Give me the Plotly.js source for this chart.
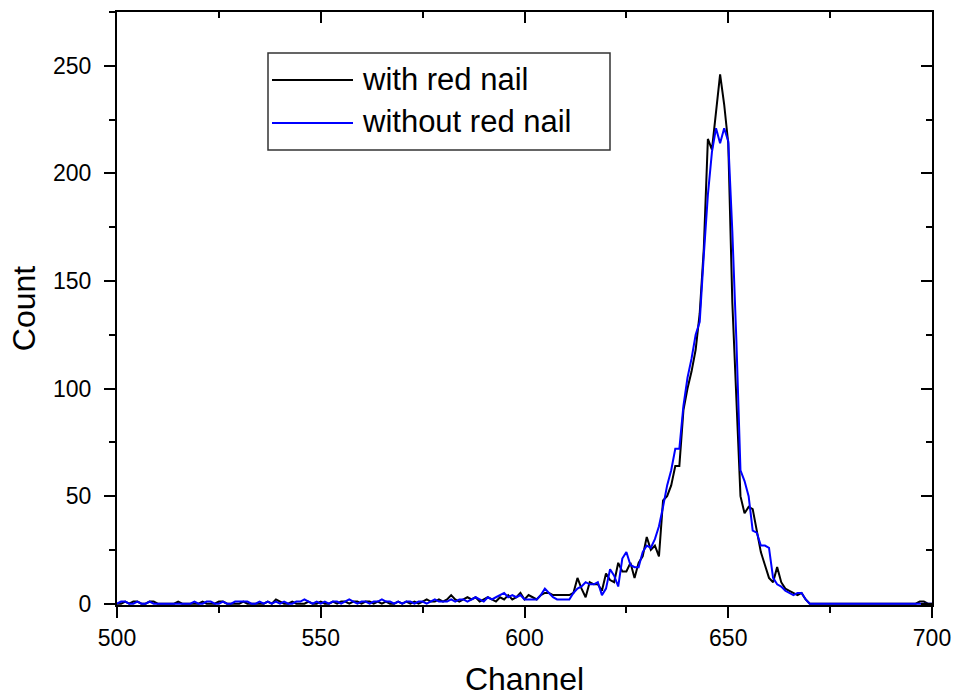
<!DOCTYPE html>
<html>
<head>
<meta charset="utf-8">
<script src="https://cdn.plot.ly/plotly-3.0.1.min.js"></script>
<style>html,body{margin:0;padding:0;background:#fff;}#chart{width:955px;height:697px;}</style>
</head>
<body>
<div id="chart"></div>
<script>
// Channel numbering: first channel of the arrays below
const firstChannel = 500;

// Counts per channel (500..700), "with red nail"
const withRedNail = [
  0,0,1,0,1,1,0,0,1,1, 0,0,0,0,0,1,0,0,0,0,
  0,1,0,0,0,1,1,0,0,0, 0,1,0,0,0,0,0,1,0,2,
  1,0,0,1,0,0,0,1,0,0, 1,0,0,1,0,1,1,0,1,1,
  0,1,1,0,1,0,1,0,0,1, 0,1,0,1,0,1,2,1,1,2,
  1,2,4,2,1,2,3,2,3,1, 2,3,2,1,3,2,4,2,3,5,
  2,4,3,2,4,5,5,4,4,4, 4,4,5,12,7,3,10,9,9,6,
  14,11,10,19,15,15,19,12,19,22, 31,25,27,22,48,50,55,64,64,90,
  100,108,118,135,165,216,211,228,246,232, 214,140,95,50,42,45,44,33,24,18,
  12,10,17,10,7,6,5,4,5,2, 0,0,0,0,0,0,0,0,0,0,
  0,0,0,0,0,0,0,0,0,0, 0,0,0,0,0,0,0,1,1,0,
  0
];

// Counts per channel (500..700), "without red nail"
const withoutRedNail = [
  0,1,1,0,0,1,0,0,1,0, 0,0,0,0,0,0,0,0,0,1,
  0,0,1,1,0,0,1,0,0,1, 1,1,1,0,0,1,0,1,0,1,
  0,1,0,0,1,1,2,1,0,1, 0,1,0,1,1,0,1,2,1,0,
  1,1,0,1,1,2,1,1,0,1, 0,1,1,0,1,1,0,1,2,1,
  1,1,2,1,2,2,1,2,3,2, 1,3,2,3,4,5,3,4,3,4,
  2,2,2,2,4,7,5,3,2,2, 2,2,5,7,8,10,9,9,10,4,
  7,16,13,8,21,24,18,17,17,24, 27,26,30,36,45,55,62,72,72,92,
  105,114,125,131,162,190,210,221,214,221, 215,173,122,62,57,50,34,33,27,27,
  26,12,9,8,6,5,4,5,5,2, 0,0,0,0,0,0,0,0,0,0,
  0,0,0,0,0,0,0,0,0,0, 0,0,0,0,0,0,0,0,0,0,
  0
];

const seriesNames = ["with red nail", "without red nail"];
const seriesColors = ["#000000", "#0000ff"];
const xTitle = "Channel";
const yTitle = "Count";
const xTicks = [500, 550, 600, 650, 700];
const yTicks = [0, 50, 100, 150, 200, 250];

const channels = withRedNail.map((_, i) => firstChannel + i);

const FONT = "Liberation Sans, Arial, sans-serif";

// second series drawn on the mirrored (top/right) axes, which share the same ranges
const traces = [
  {x: channels, y: withRedNail, type: "scatter", mode: "lines", name: seriesNames[0],
   line: {color: seriesColors[0], width: 2}, showlegend: false, xaxis: "x", yaxis: "y"},
  {x: channels, y: withoutRedNail, type: "scatter", mode: "lines", name: seriesNames[1],
   line: {color: seriesColors[1], width: 2}, showlegend: false, xaxis: "x2", yaxis: "y2"}
];

const axisCommon = {
  showgrid: false, zeroline: false, showline: true, linecolor: "#000", linewidth: 2,
  tickcolor: "#000", tickwidth: 2, ticklen: 11, fixedrange: true
};
const XR = [500, 700];
const YR = [-0.6, 275];

const layout = {
  width: 955, height: 697,
  margin: {l: 117, r: 23, t: 12, b: 92, pad: 0},
  paper_bgcolor: "#fff", plot_bgcolor: "#fff",
  font: {family: FONT, color: "#000"},
  xaxis: Object.assign({}, axisCommon, {
    range: XR, tickvals: xTicks, ticks: "outside",
    minor: {dtick: 25, tick0: 500, ticks: "outside", ticklen: 6, tickwidth: 2, tickcolor: "#000"},
    tickfont: {size: 23, family: FONT, color: "#000"},
    title: {text: xTitle, font: {size: 32, family: FONT, color: "#000"}, standoff: 20}
  }),
  yaxis: Object.assign({}, axisCommon, {
    range: YR, tickvals: yTicks, ticks: "outside", ticklabelstandoff: 8,
    minor: {dtick: 25, tick0: 0, ticks: "outside", ticklen: 6, tickwidth: 2, tickcolor: "#000"},
    tickfont: {size: 23, family: FONT, color: "#000"},
    title: {text: yTitle, font: {size: 32, family: FONT, color: "#000"}, standoff: 8}
  }),
  xaxis2: Object.assign({}, axisCommon, {
    overlaying: "x", side: "top", anchor: "y2", range: XR,
    tickvals: xTicks, ticks: "inside", showticklabels: false,
    minor: {dtick: 25, tick0: 500, ticks: "inside", ticklen: 6, tickwidth: 2, tickcolor: "#000"}
  }),
  yaxis2: Object.assign({}, axisCommon, {
    overlaying: "y", side: "right", anchor: "x2", range: YR,
    tickvals: yTicks, ticks: "inside", showticklabels: false,
    minor: {dtick: 25, tick0: 0, ticks: "inside", ticklen: 6, tickwidth: 2, tickcolor: "#000"}
  }),
  shapes: [
    {type: "rect", xref: "paper", yref: "paper",
     x0: (268 - 117) / 815, x1: (610 - 117) / 815, y0: (605 - 150) / 593, y1: (605 - 53) / 593,
     line: {color: "#333", width: 1.5}, fillcolor: "#fff", layer: "above"},
    {type: "line", xref: "paper", yref: "paper",
     x0: (272 - 117) / 815, x1: (353 - 117) / 815, y0: (605 - 80) / 593, y1: (605 - 80) / 593,
     line: {color: seriesColors[0], width: 2}, layer: "above"},
    {type: "line", xref: "paper", yref: "paper",
     x0: (272 - 117) / 815, x1: (353 - 117) / 815, y0: (605 - 123) / 593, y1: (605 - 123) / 593,
     line: {color: seriesColors[1], width: 2}, layer: "above"}
  ],
  annotations: [
    {xref: "paper", yref: "paper", x: (360 - 117) / 815, y: (605 - 79) / 593,
     xanchor: "left", yanchor: "middle", showarrow: false, text: seriesNames[0],
     font: {size: 31, family: FONT, color: "#000"}},
    {xref: "paper", yref: "paper", x: (360 - 117) / 815, y: (605 - 122) / 593,
     xanchor: "left", yanchor: "middle", showarrow: false, text: seriesNames[1],
     font: {size: 31, family: FONT, color: "#000"}}
  ]
};

Plotly.newPlot("chart", traces, layout, {displayModeBar: false, staticPlot: true});
</script>
</body>
</html>
